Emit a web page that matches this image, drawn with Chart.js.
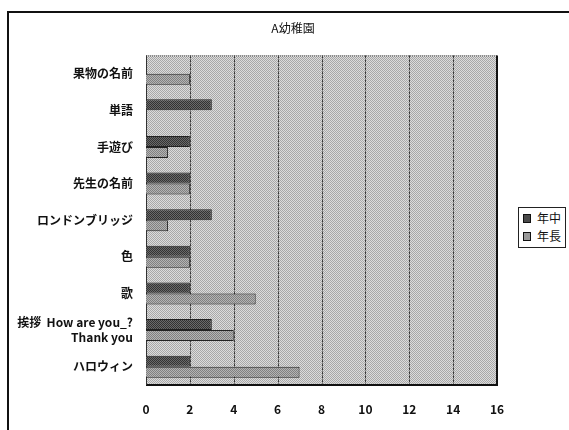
<!DOCTYPE html>
<html>
<head>
<meta charset="utf-8">
<script src="https://cdn.jsdelivr.net/npm/chart.js@4/dist/chart.umd.min.js"></script>
<style>
  html, body { margin: 0; padding: 0; background: #fff; }
  #wrap { position: relative; width: 569px; height: 430px; overflow: hidden; }
  #frame { position: absolute; left: 7px; top: 11px; width: 600px; height: 500px;
           border-left: 2px solid #111; border-top: 2px solid #111; }
  canvas { position: absolute; left: 0; top: 0; }
  #legend { position: absolute; left: 518px; top: 207px; width: 46px; height: 39px;
            border: 1px solid #222; background: #fff;
            font: 12px "Noto Sans CJK JP", sans-serif; color: #111; }
  #legend div { position: absolute; left: 4px; height: 16px; line-height: 16px; white-space: nowrap; }
  #legend span.sw { display: inline-block; width: 6px; height: 7px; border: 1px solid #111;
                    margin-right: 6px; vertical-align: middle; position: relative; top: -1px; }
</style>
</head>
<body>
<div id="wrap">
  <div id="frame"></div>
  <canvas id="c" width="569" height="430"></canvas>
  <div id="legend"></div>
</div>
<script>
// Categories, top to bottom
const categories = [
  '果物の名前',
  '単語',
  '手遊び',
  '先生の名前',
  'ロンドンブリッジ',
  '色',
  '歌',
  ['挨拶  How are you_?', 'Thank you'],
  'ハロウィン'
];
const seriesNames = ['年中', '年長'];
const nenchu = [0, 3, 2, 2, 3, 2, 2, 3, 2];
const nencho = [2, 0, 1, 2, 1, 2, 5, 4, 7];
const xTicks = [0, 2, 4, 6, 8, 10, 12, 14, 16];

// small dithered fills
function dither(a, b) {
  const p = document.createElement('canvas');
  p.width = 2; p.height = 2;
  const g = p.getContext('2d');
  g.fillStyle = a; g.fillRect(0, 0, 2, 2);
  g.fillStyle = b; g.fillRect(0, 0, 1, 1); g.fillRect(1, 1, 1, 1);
  return g.createPattern(p, 'repeat');
}
const ctx = document.getElementById('c').getContext('2d');
const bgFill = dither('#dcdcdc', '#a8a8a8');
const darkFill = dither('#6a6a6a', '#333333');
const lightFill = dither('#b4b4b4', '#808080');
const swatchColors = ['#4a4a4a', '#9a9a9a'];

const plotFrame = {
  id: 'plotFrame',
  beforeDatasetsDraw(chart) {
    const a = chart.chartArea, c = chart.ctx;
    c.save();
    c.fillStyle = bgFill;
    c.fillRect(a.left, a.top, a.right - a.left, a.bottom - a.top);
    // vertical grid lines
    const xs = chart.scales.x;
    c.strokeStyle = '#3a3a3a';
    c.lineWidth = 1;
    c.setLineDash([3, 1]);
    xTicks.slice(1, -1).forEach(v => {
      const px = Math.round(xs.getPixelForValue(v)) + 0.5;
      c.beginPath(); c.moveTo(px, a.top); c.lineTo(px, a.bottom); c.stroke();
    });
    // top edge dotted
    c.setLineDash([1, 1]);
    c.strokeStyle = '#555';
    c.beginPath(); c.moveTo(a.left, a.top + 0.5); c.lineTo(a.right, a.top + 0.5); c.stroke();
    c.setLineDash([]);
    // right and bottom edges
    c.strokeStyle = '#111';
    c.lineWidth = 2;
    c.beginPath();
    c.moveTo(a.right, a.top); c.lineTo(a.right, a.bottom); c.lineTo(a.left, a.bottom);
    c.stroke();
    // left edge
    c.lineWidth = 1;
    c.strokeStyle = '#333';
    c.beginPath(); c.moveTo(a.left + 0.5, a.top); c.lineTo(a.left + 0.5, a.bottom); c.stroke();
    c.restore();
  }
};

const labelFont = { family: '"Liberation Sans Narrow", "Noto Sans CJK JP", sans-serif', size: 12, weight: 'bold' };

new Chart(ctx, {
  type: 'bar',
  data: {
    labels: categories,
    datasets: [
      { label: seriesNames[0], data: nenchu, backgroundColor: darkFill, borderColor: '#222', borderWidth: 1 },
      { label: seriesNames[1], data: nencho, backgroundColor: lightFill, borderColor: '#222', borderWidth: 1 }
    ]
  },
  options: {
    responsive: false,
    animation: false,
    indexAxis: 'y',
    layout: { padding: { top: 14, right: 0, bottom: 0, left: 17 } },
    datasets: { bar: { barPercentage: 1.0, categoryPercentage: 0.6 } },
    plugins: {
      legend: { display: false },
      tooltip: { enabled: false },
      title: {
        display: true,
        text: 'A幼稚園',
        color: '#111',
        font: { family: '"Noto Sans CJK JP", sans-serif', size: 12, weight: 'normal' },
        padding: { top: 7, bottom: 20 }
      }
    },
    scales: {
      x: {
        min: 0, max: 16,
        afterBuildTicks(s) { s.ticks = xTicks.map(v => ({ value: v })); },
        afterFit(s) { s.height = 45; },
        grid: { display: false, drawTicks: false },
        border: { display: false },
        ticks: { color: '#111', font: labelFont, padding: 17 }
      },
      y: {
        afterFit(s) { s.width = 129; },
        grid: { display: false, drawTicks: false },
        border: { display: false },
        ticks: {
          color: '#111', padding: 13, autoSkip: false,
          font: { family: '"Noto Sans CJK JP", sans-serif', size: 12, weight: 'bold' }
        }
      },
      // empty right-hand band that leaves room for the legend
      yRight: {
        type: 'category',
        position: 'right',
        labels: [''],
        afterFit(s) { s.width = 72; },
        grid: { display: false, drawTicks: false },
        border: { display: false },
        ticks: { display: false }
      }
    }
  },
  plugins: [plotFrame]
});

// legend box
const lg = document.getElementById('legend');
seriesNames.forEach((n, i) => {
  const d = document.createElement('div');
  d.style.top = (2 + i * 18) + 'px';
  d.innerHTML = '<span class="sw" style="background:' + swatchColors[i] + '"></span>' + n;
  lg.appendChild(d);
});
</script>
</body>
</html>
